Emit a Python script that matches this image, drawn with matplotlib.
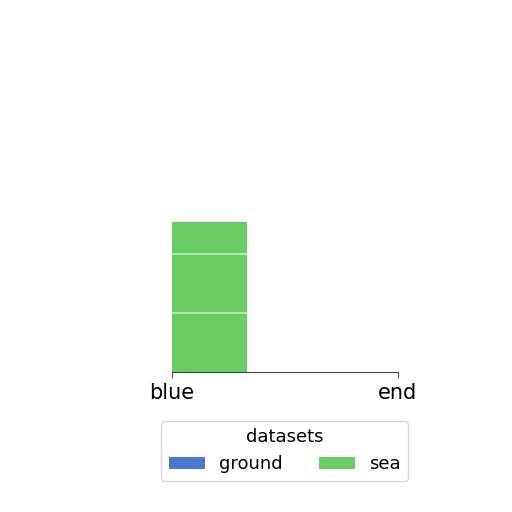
import matplotlib
matplotlib.use("Agg")
import matplotlib.pyplot as plt
import numpy as np

categories = ["blue", "end"]
ground = [0.0, 0.0]
sea = [2.54, 0.0]
series_names = ["ground", "sea"]
colors = ["#4878d0", "#6acc64"]

fig = plt.figure(figsize=(5.12, 5.12), dpi=100)
ax = fig.add_axes([0.336, 0.273, 0.441, 0.576])

x = np.arange(len(categories))
ax.bar(x, ground, width=0.33, align="edge", color=colors[0], label=series_names[0], zorder=2)
ax.bar(x, sea, width=0.33, align="edge", bottom=ground, color=colors[1], label=series_names[1], zorder=2)

ax.set_xlim(0, 1)
ax.set_ylim(0, 5)
ax.set_xticks(x)
ax.set_xticklabels(categories, fontsize=15)
ax.set_yticks([1, 2])
# white grid only shows where it crosses the bar
ax.yaxis.grid(True, color="white", alpha=0.6, linewidth=1.2, zorder=3)
ax.set_axisbelow(False)
ax.tick_params(axis="y", left=False, labelleft=False)
ax.tick_params(axis="x", length=4, pad=4, color="#555555")
for side in ["top", "left", "right"]:
    ax.spines[side].set_visible(False)
ax.spines["bottom"].set_color("#444444")

ax.legend(title="datasets", ncol=2, loc="upper center", bbox_to_anchor=(0.5, -0.135),
          fontsize=13, title_fontsize=13, handlelength=2.0, columnspacing=2.0,
          frameon=True, edgecolor="#cccccc")

fig.savefig("out.png", dpi=100)
